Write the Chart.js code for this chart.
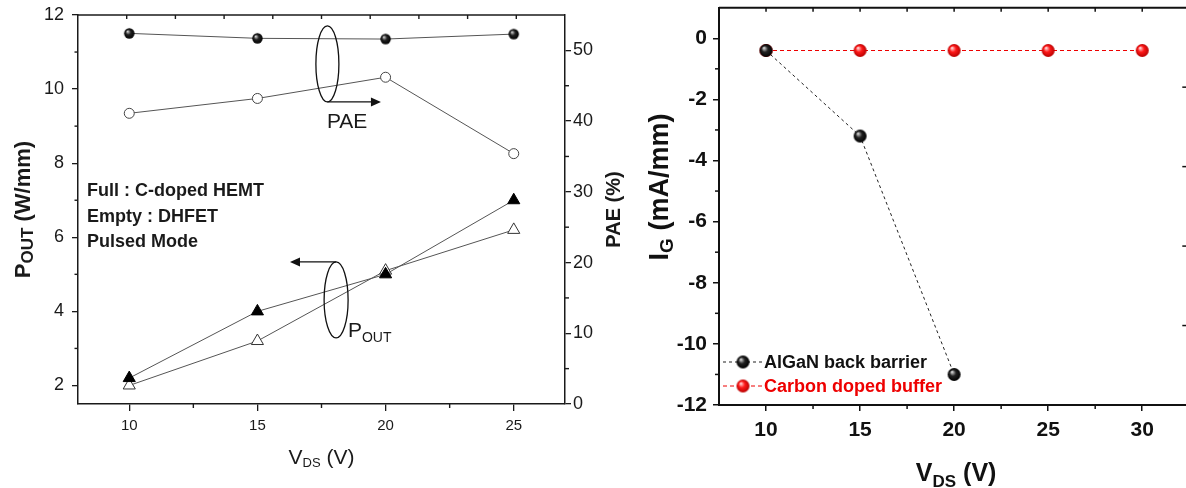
<!DOCTYPE html>
<html><head><meta charset="utf-8">
<script src="https://cdn.jsdelivr.net/npm/chart.js@4.4.1/dist/chart.umd.min.js"></script>
<style>
html,body{margin:0;padding:0;background:#fff;overflow:hidden;width:1186px;height:488px;position:relative;}
#c1{position:absolute;left:0;top:0;}
#c2{position:absolute;left:630px;top:0;}
</style></head><body>
<canvas id="c1" width="640" height="488"></canvas>
<canvas id="c2" width="566" height="488"></canvas>
<script>
const FONT = "'Liberation Sans', Arial, sans-serif";

// ---------- Left chart data (Pout / PAE vs VDS) ----------
const vdsLeft = [10, 15, 20, 25];
const poutCdoped = [2.2, 4.0, 5.0, 7.0];
const poutDhfet = [2.0, 3.2, 5.1, 6.2];
const paeCdoped = [52.4, 51.7, 51.6, 52.3];
const paeDhfet = [41.1, 43.2, 46.2, 35.4];
const xTicksLeft = [10, 15, 20, 25];
const xMinorLeft = [12.5, 17.5, 22.5];
const poutTicks = [2, 4, 6, 8, 10, 12];
const poutMinor = [3, 5, 7, 9, 11];
const paeTicks = [0, 10, 20, 30, 40, 50];
const paeMinor = [5, 15, 25, 35, 45];
const noteLines = ['Full : C-doped HEMT', 'Empty : DHFET', 'Pulsed Mode'];

// ---------- Right chart data (IG vs VDS) ----------
const vdsRight = [10, 15, 20, 25, 30];
const igAlgan = [-0.4, -3.2, -11.0];          // at 10, 15, 20 V
const igCarbon = [-0.4, -0.4, -0.4, -0.4, -0.4];
const xTicksRight = [10, 15, 20, 25, 30];
const xMinorRight = [12.5, 17.5, 22.5, 27.5];
const igTicks = [-12, -10, -8, -6, -4, -2, 0];
const igMinor = [-11, -9, -7, -5, -3, -1];
const legendNames = ['AlGaN back barrier', 'Carbon doped buffer'];

// annotation anchors (data units of the left chart)
const notes = {
  textAt: {x: 8.35, y: 7.11},
  paeRing: {x: 17.73, y: 10.68}, paeArrowTo: 19.82, paeLabel: {x: 17.71, y: 8.95},
  poutRing: {x: 18.07, y: 4.31}, poutArrowTo: 16.27, poutLabel: {x: 18.53, y: 3.31}
};

function sphere(r, hi, base, dark) {
  const c = document.createElement('canvas');
  const s = Math.ceil(r * 2 + 2);
  c.width = c.height = s;
  const g = c.getContext('2d');
  const cx = s / 2, cy = s / 2;
  const grad = g.createRadialGradient(cx - r * 0.35, cy - r * 0.4, r * 0.05, cx, cy, r);
  grad.addColorStop(0, hi);
  grad.addColorStop(0.45, base);
  grad.addColorStop(1, dark);
  g.fillStyle = grad;
  g.beginPath(); g.arc(cx, cy, r, 0, Math.PI * 2); g.fill();
  return c;
}
const sphBlackS = sphere(5.2, '#d8d8d8', '#222', '#000');
const sphBlackL = sphere(6.5, '#e0e0e0', '#222', '#000');
const sphRedL = sphere(6.5, '#ffe0e0', '#ff1a1a', '#b80000');

function seg(ctx, x1, y1, x2, y2) { ctx.beginPath(); ctx.moveTo(x1, y1); ctx.lineTo(x2, y2); ctx.stroke(); }
function arrowHead(ctx, x, y, dir) {
  ctx.beginPath(); ctx.moveTo(x, y); ctx.lineTo(x - dir * 10, y - 4.5); ctx.lineTo(x - dir * 10, y + 4.5); ctx.closePath(); ctx.fill();
}
function richText(ctx, parts, x, y, align) {
  let w = 0;
  parts.forEach(p => { ctx.font = p.f; w += ctx.measureText(p.t).width; });
  let cx = align === 'center' ? x - w / 2 : x;
  ctx.textAlign = 'left'; ctx.textBaseline = 'alphabetic';
  parts.forEach(p => { ctx.font = p.f; ctx.fillText(p.t, cx, y + (p.dy || 0)); cx += ctx.measureText(p.t).width; });
}
const pts = (xs, ys) => ys.map((v, i) => ({x: xs[i], y: v}));
const noPad = s => { s.paddingTop = 0; s.paddingBottom = 0; s.paddingLeft = 0; s.paddingRight = 0; };

// ---------------- LEFT CHART ----------------
const TXT = '#1a1a1a';
const leftDecor = {
  id: 'leftDecor',
  afterDraw(chart) {
    const {ctx, chartArea: a, scales: {x, y, y2}} = chart;
    ctx.save();
    ctx.strokeStyle = TXT; ctx.fillStyle = TXT; ctx.lineWidth = 1.4;
    seg(ctx, a.left, a.top, a.right, a.top);
    for (let k = 1; k < 10; k++) { const px = a.left + (a.right - a.left) * k / 10; seg(ctx, px, a.top, px, a.top + 4); }
    xMinorLeft.forEach(v => { const px = x.getPixelForValue(v); seg(ctx, px, a.bottom, px, a.bottom + 4); });
    poutMinor.forEach(v => { const py = y.getPixelForValue(v); seg(ctx, a.left - 3.5, py, a.left, py); });
    paeMinor.forEach(v => { const py = y2.getPixelForValue(v); seg(ctx, a.right, py, a.right + 4, py); });

    // ellipses + arrows
    ctx.lineWidth = 1.3; ctx.strokeStyle = '#111'; ctx.fillStyle = '#111';
    const r1x = x.getPixelForValue(notes.paeRing.x), r1y = y.getPixelForValue(notes.paeRing.y);
    ctx.beginPath(); ctx.ellipse(r1x, r1y, 11.5, 38, 0, 0, Math.PI * 2); ctx.stroke();
    const a1x = x.getPixelForValue(notes.paeArrowTo);
    ctx.lineWidth = 1.2; seg(ctx, r1x, r1y + 38, a1x - 8, r1y + 38); arrowHead(ctx, a1x, r1y + 38, 1);
    const r2x = x.getPixelForValue(notes.poutRing.x), r2y = y.getPixelForValue(notes.poutRing.y);
    ctx.lineWidth = 1.3; ctx.beginPath(); ctx.ellipse(r2x, r2y, 12, 38, 0, 0, Math.PI * 2); ctx.stroke();
    const a2x = x.getPixelForValue(notes.poutArrowTo);
    ctx.lineWidth = 1.2; seg(ctx, r2x, r2y - 38, a2x + 8, r2y - 38); arrowHead(ctx, a2x, r2y - 38, -1);

    // labels
    ctx.fillStyle = TXT;
    richText(ctx, [{t: 'PAE', f: '21px ' + FONT}], x.getPixelForValue(notes.paeLabel.x), y.getPixelForValue(notes.paeLabel.y), 'left');
    richText(ctx, [{t: 'P', f: '21px ' + FONT}, {t: 'OUT', f: '14px ' + FONT, dy: 5}], x.getPixelForValue(notes.poutLabel.x), y.getPixelForValue(notes.poutLabel.y), 'left');
    const tx = x.getPixelForValue(notes.textAt.x), ty = y.getPixelForValue(notes.textAt.y);
    noteLines.forEach((s, i) => richText(ctx, [{t: s, f: 'bold 18px ' + FONT}], tx, ty + i * 25.5, 'left'));

    // axis titles
    const cy = (a.top + a.bottom) / 2;
    ctx.save(); ctx.translate(30, cy); ctx.rotate(-Math.PI / 2);
    richText(ctx, [{t: 'P', f: 'bold 22px ' + FONT}, {t: 'OUT', f: 'bold 17px ' + FONT, dy: 3}, {t: ' (W/mm)', f: 'bold 22px ' + FONT}], 0, 0, 'center');
    ctx.restore();
    ctx.save(); ctx.translate(620, cy); ctx.rotate(-Math.PI / 2);
    richText(ctx, [{t: 'PAE (%)', f: 'bold 20px ' + FONT}], 0, 0, 'center');
    ctx.restore();
    richText(ctx, [{t: 'V', f: '21px ' + FONT}, {t: 'DS', f: '13px ' + FONT, dy: 3}, {t: ' (V)', f: '21px ' + FONT}], (a.left + a.right) / 2, 464, 'center');
    ctx.restore();
  }
};

const axisCommon = (len) => ({
  grid: {display: true, drawOnChartArea: false, drawTicks: true, tickLength: len, color: TXT, lineWidth: 1.3},
  border: {display: true, color: TXT, width: 1.5}
});

new Chart(document.getElementById('c1'), {
  type: 'line',
  data: {
    datasets: [
      {data: pts(vdsLeft, poutCdoped), yAxisID: 'y', borderColor: '#555', borderWidth: 1,
       pointStyle: 'triangle', pointRadius: 7, pointBackgroundColor: '#000', pointBorderColor: '#000', pointBorderWidth: 1},
      {data: pts(vdsLeft, poutDhfet), yAxisID: 'y', borderColor: '#555', borderWidth: 1,
       pointStyle: 'triangle', pointRadius: 7, pointBackgroundColor: '#fff', pointBorderColor: '#333', pointBorderWidth: 1},
      {data: pts(vdsLeft, paeCdoped), yAxisID: 'y2', borderColor: '#555', borderWidth: 1,
       pointStyle: sphBlackS, pointRadius: 5},
      {data: pts(vdsLeft, paeDhfet), yAxisID: 'y2', borderColor: '#555', borderWidth: 1,
       pointStyle: 'circle', pointRadius: 5, pointBackgroundColor: '#fff', pointBorderColor: '#444', pointBorderWidth: 1}
    ]
  },
  options: {
    responsive: false, animation: false, devicePixelRatio: 1,
    layout: {padding: {top: 15, left: 0, right: 0, bottom: 0}},
    plugins: {legend: {display: false}, tooltip: {enabled: false}},
    scales: {
      x: Object.assign(axisCommon(7), {type: 'linear', min: 8, max: 27,
        afterBuildTicks: s => { s.ticks = xTicksLeft.map(v => ({value: v})); },
        afterFit: s => { s.height = 84; noPad(s); },
        ticks: {font: {family: FONT, size: 15}, color: TXT, padding: 6}}),
      y: Object.assign(axisCommon(6), {type: 'linear', position: 'left', min: 1.5, max: 12,
        afterBuildTicks: s => { s.ticks = poutTicks.map(v => ({value: v})); },
        afterFit: s => { s.width = 78; noPad(s); },
        ticks: {font: {family: FONT, size: 18}, color: TXT, padding: 8}}),
      y2: Object.assign(axisCommon(6), {type: 'linear', position: 'right', min: 0, max: 55,
        afterBuildTicks: s => { s.ticks = paeTicks.map(v => ({value: v})); },
        afterFit: s => { s.width = 75; noPad(s); },
        ticks: {font: {family: FONT, size: 18}, color: TXT, padding: 2}})
    }
  },
  plugins: [leftDecor]
});

// ---------------- RIGHT CHART ----------------
const rightDecor = {
  id: 'rightDecor',
  afterDraw(chart) {
    const {ctx, chartArea: a, scales: {x, y}} = chart;
    ctx.save();
    ctx.strokeStyle = '#111'; ctx.fillStyle = '#111'; ctx.lineWidth = 2;
    seg(ctx, a.left, a.top, a.right, a.top);
    seg(ctx, a.right, a.top, a.right, a.bottom);
    ctx.lineWidth = 1.5;
    xTicksRight.concat(xMinorRight).forEach(v => { const px = x.getPixelForValue(v); seg(ctx, px, a.top, px, a.top + 4); });
    xMinorRight.forEach(v => { const px = x.getPixelForValue(v); seg(ctx, px, a.bottom, px, a.bottom + 4); });
    igMinor.forEach(v => { const py = y.getPixelForValue(v); seg(ctx, a.left - 4, py, a.left, py); });
    for (let k = 1; k < 5; k++) { const py = a.top + (a.bottom - a.top) * k / 5; seg(ctx, a.right - 6, py, a.right, py); }

    // legend
    const ds = chart.data.datasets;
    const rows = [362, 386];
    ds.forEach((d, i) => {
      const ly = rows[i];
      ctx.strokeStyle = d.borderColor; ctx.lineWidth = 1; ctx.setLineDash(d.borderDash);
      seg(ctx, a.left + 4, ly, a.left + 44, ly);
      ctx.setLineDash([]);
      const img = d.pointStyle;
      ctx.drawImage(img, a.left + 24 - img.width / 2, ly - img.height / 2);
      ctx.fillStyle = d.borderColor === '#222' ? '#111' : '#ee0000';
      ctx.font = 'bold 18px ' + FONT; ctx.textAlign = 'left'; ctx.textBaseline = 'middle';
      ctx.fillText(legendNames[i], a.left + 45, ly + 1);
    });

    // titles
    ctx.fillStyle = '#111';
    ctx.save(); ctx.translate(a.left - 51, 187); ctx.rotate(-Math.PI / 2);
    richText(ctx, [{t: 'I', f: 'bold 27px ' + FONT}, {t: 'G', f: 'bold 19px ' + FONT, dy: 5}, {t: ' (mA/mm)', f: 'bold 27px ' + FONT}], 0, 0, 'center');
    ctx.restore();
    const xc = x.getPixelForValue(xTicksRight[0]) + (x.getPixelForValue(xTicksRight[xTicksRight.length - 1]) - x.getPixelForValue(xTicksRight[0])) * 0.5 + 2;
    richText(ctx, [{t: 'V', f: 'bold 25px ' + FONT}, {t: 'DS', f: 'bold 17px ' + FONT, dy: 6}, {t: ' (V)', f: 'bold 25px ' + FONT}], xc, 481, 'center');
    ctx.restore();
  }
};

const axisR = (len) => ({
  grid: {display: true, drawOnChartArea: false, drawTicks: true, tickLength: len, color: '#111', lineWidth: 1.5},
  border: {display: true, color: '#111', width: 2}
});

new Chart(document.getElementById('c2'), {
  type: 'line',
  data: {
    datasets: [
      {label: legendNames[0], data: pts(vdsRight, igAlgan), borderColor: '#222', borderWidth: 1, borderDash: [3, 3],
       pointStyle: sphBlackL, pointRadius: 6.5},
      {label: legendNames[1], data: pts(vdsRight, igCarbon), borderColor: '#ee0000', borderWidth: 1.2, borderDash: [4, 3],
       pointStyle: sphRedL, pointRadius: 6.5}
    ]
  },
  options: {
    responsive: false, animation: false, devicePixelRatio: 1,
    layout: {padding: {top: 6, left: 0, right: 3, bottom: 0}},
    plugins: {legend: {display: false}, tooltip: {enabled: false}},
    scales: {
      x: Object.assign(axisR(6), {type: 'linear', min: 7.5, max: 32.45,
        afterBuildTicks: s => { s.ticks = xTicksRight.map(v => ({value: v})); },
        afterFit: s => { s.height = 83; noPad(s); },
        ticks: {font: {family: FONT, size: 21, weight: 'bold'}, color: '#111', padding: 7}}),
      y: Object.assign(axisR(6), {type: 'linear', position: 'left', min: -12, max: 1,
        afterBuildTicks: s => { s.ticks = igTicks.map(v => ({value: v})); },
        afterFit: s => { s.width = 89; noPad(s); },
        ticks: {font: {family: FONT, size: 21, weight: 'bold'}, color: '#111', padding: 6}})
    }
  },
  plugins: [rightDecor]
});
</script>
</body></html>
